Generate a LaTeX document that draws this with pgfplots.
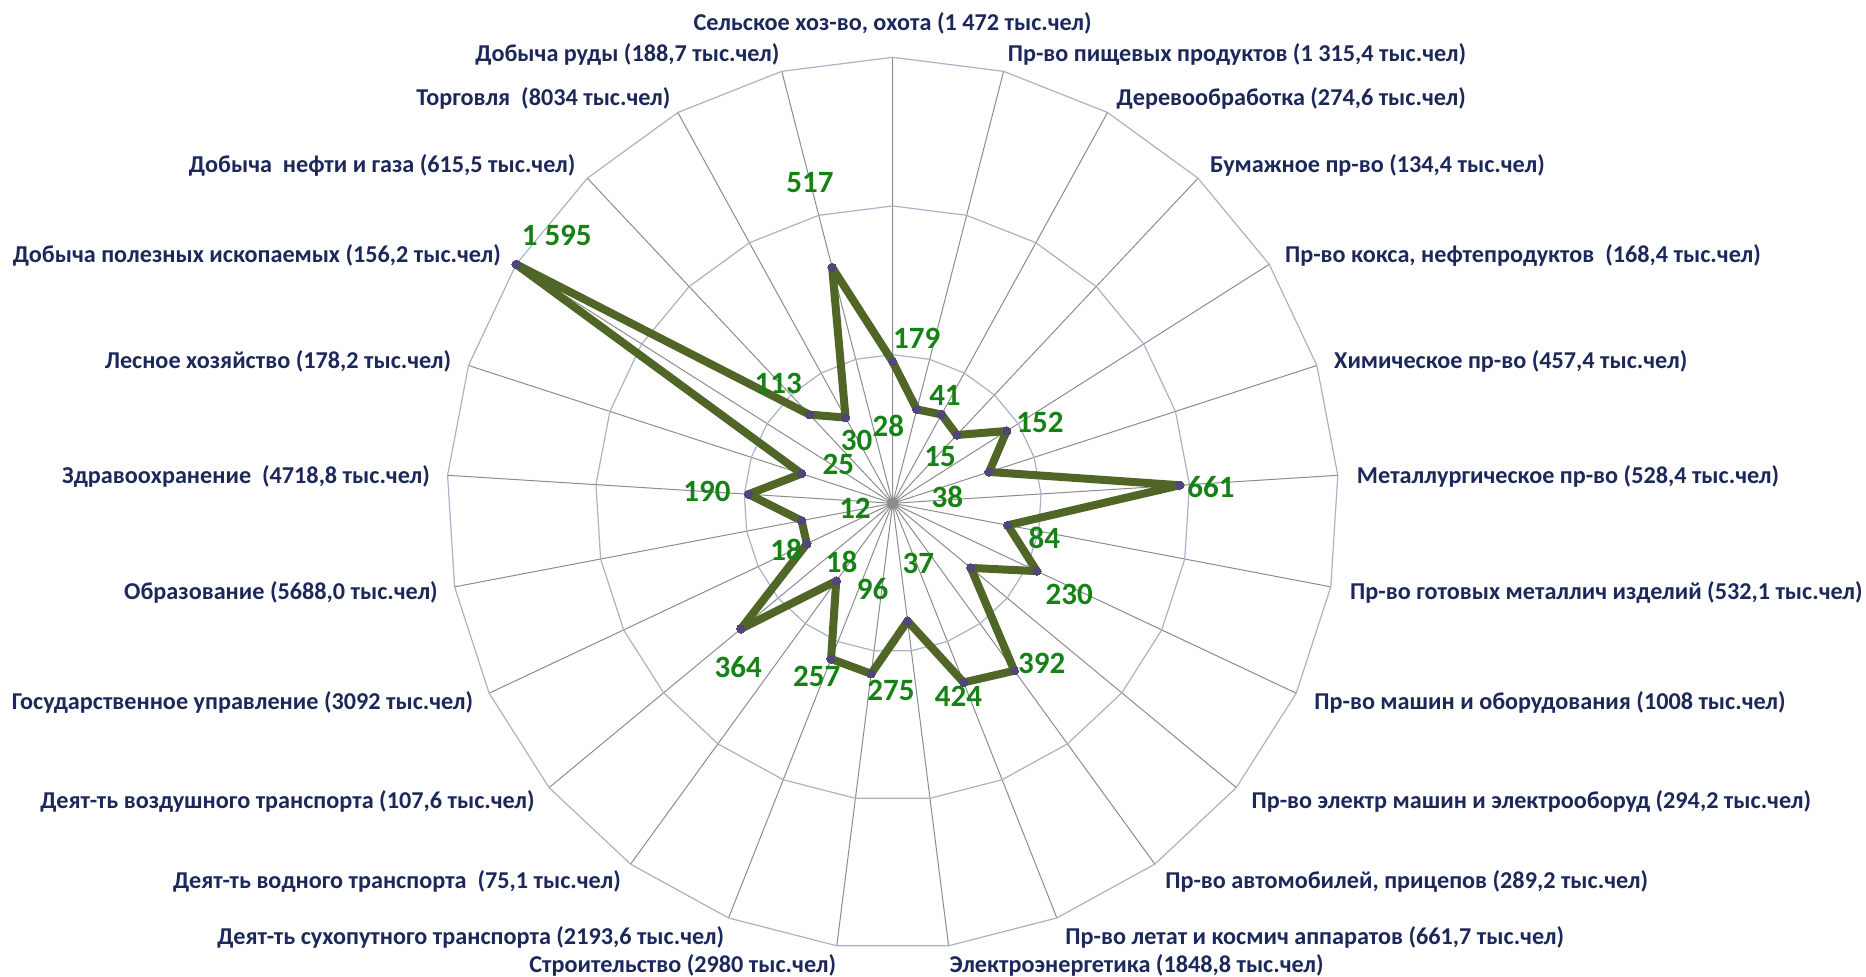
\documentclass[border=0pt]{standalone}
\usepackage{fontspec}
\setmainfont{Carlito}
\usepackage{pgfplots}
\pgfplotsset{compat=1.18}
\usepackage{pgfplotstable}
\usepgfplotslibrary{polar}

\definecolor{spoke}{RGB}{140,140,140}
\definecolor{ring}{RGB}{170,178,200}
\definecolor{serie}{RGB}{80,102,38}
\definecolor{markc}{RGB}{80,70,120}
\definecolor{valc}{RGB}{22,130,22}
\definecolor{catc}{RGB}{28,40,90}

% radius of each vertex (outer ring = 1500)
\pgfplotstableread{
a r
90 476
75.6 326
61.2 341
46.8 315
32.4 454
18 341
3.6 968
-10.8 394
-25.2 536
-39.6 341
-54 696
-68.4 648
-82.8 399
-97.2 578
-111.6 563
-126 323
-140.4 663
-154.8 319
-169.2 312
-183.6 486
-198 322
-212.4 1500
-226.8 409
-241.2 329
-255.6 819
-270 476
}\series

\pgfplotstableread[col sep=semicolon, row sep=\\]{
x;y;t\\
80.7;554.9;179\\
175.9;364.2;41\\
495.4;271.1;152\\
159.1;156.7;15\\
183.6;22.2;38\\
1070.5;55.8;661\\
509.9;-117.7;84\\
593.9;-305.0;230\\
86.1;-201.8;37\\
501.1;-538.1;392\\
221.3;-650.4;424\\
-67.3;-289.2;96\\
-5.7;-628;275\\
-255.6;-583.2;257\\
-171.5;-196.4;18\\
-519.3;-549.5;364\\
-358.8;-157.1;18\\
-126.8;-16.8;12\\
-624.5;39.7;190\\
-183.0;132.2;25\\
-1130.0;902.3;1 595\\
-121.1;212.9;30\\
-384.7;403.6;113\\
-14.8;260.0;28\\
-278.1;1078.2;517\\
}\vals

\pgfplotstableread[col sep=semicolon, row sep=\\]{
x;y;t\\
0;1615;Сельское хоз-во, охота (1 472 тыс.чел)\\
}\catstop

\pgfplotstableread[col sep=semicolon, row sep=\\]{
x;y;t\\
385.8;1510.7;Пр-во пищевых продуктов (1 315,4 тыс.чел)\\
752.0;1363;Деревообработка (274,6 тыс.чел)\\
1066.5;1136.5;Бумажное пр-во (134,4 тыс.чел)\\
1318.4;833.8;Пр-во кокса, нефтепродуктов~ (168,4 тыс.чел)\\
1483.5;477;Химическое пр-во (457,4 тыс.чел)\\
1560.2;90.8;Металлургическое пр-во (528,4 тыс.чел)\\
1537.3;-300.4;Пр-во готовых металлич изделий (532,1 тыс.чел)\\
1416.9;-670;Пр-во машин и оборудования (1008 тыс.чел)\\
1205.7;-1003.6;Пр-во электр машин и электрооборуд (294,2 тыс.чел)\\
915.5;-1272;Пр-во автомобилей, прицепов (289,2 тыс.чел)\\
579.8;-1460.3;Пр-во летат и космич аппаратов (661,7 тыс.чел)\\
190.4;-1555.5;Электроэнергетика (1848,8 тыс.чел)\\
}\catsright

\pgfplotstableread[col sep=semicolon, row sep=\\]{
x;y;t\\
-189.3;-1555.5;Строительство (2980 тыс.чел)\\
-565.7;-1460.3;Деят-ть сухопутного транспорта (2193,6 тыс.чел)\\
-913.4;-1272;Деят-ть водного транспорта~ (75,1 тыс.чел)\\
-1203.0;-1003.6;Деят-ть воздушного транспорта (107,6 тыс.чел)\\
-1409.5;-670;Государственное управление (3092 тыс.чел)\\
-1528.9;-300.4;Образование (5688,0 тыс.чел)\\
-1555.5;90.8;Здравоохранение~ (4718,8 тыс.чел)\\
-1483.5;477;Лесное хозяйство (178,2 тыс.чел)\\
-1316.0;833.8;Добыча полезных ископаемых (156,2 тыс.чел)\\
-1066.1;1136.5;Добыча~ нефти и газа (615,5 тыс.чел)\\
-746.3;1363;Торговля~ (8034 тыс.чел)\\
-379.7;1510.7;Добыча руды (188,7 тыс.чел)\\
}\catsleft

\pgfplotsset{
  txtlabels/.style={mark=none, draw=none,
    data cs=cart, point meta=explicit symbolic, nodes near coords,
    every node near coord/.append style={anchor=#1, inner sep=0pt, text=catc,
      font=\fontsize{12.1}{14}\selectfont\bfseries}},
}

\begin{document}
\begin{tikzpicture}
\begin{polaraxis}[
  at={(0,0)}, anchor=center,
  scale only axis, width=446pt, height=446pt,
  ymin=0, ymax=1500,
  xtick={3.6,18,...,350},
  xticklabels={}, ytick=\empty,
  xmajorgrids=true, ymajorgrids=false,
  major grid style={draw=spoke, line width=0.5pt},
  axis line style={draw=none},
  major tick length=0pt,
  clip=false,
]
\coordinate (O) at (axis cs:0,0);
\addplot[ring, line width=0.6pt, mark=none] table[x=a, y expr=500] {\series};
\addplot[ring, line width=0.6pt, mark=none] table[x=a, y expr=1000] {\series};
\addplot[ring, line width=0.6pt, mark=none] table[x=a, y expr=1500] {\series};
\addplot[serie, line width=4pt, line join=round, mark=*, mark size=2.1pt,
  mark options={fill=markc, draw=markc, line width=0pt}] table[x=a, y=r] {\series};
\addplot[mark=none, draw=none, data cs=cart,
  point meta=explicit symbolic, nodes near coords,
  every node near coord/.append style={anchor=center, inner sep=0pt, text=valc,
    font=\fontsize{15.5}{18}\selectfont\bfseries}]
  table[x=x, y=y, meta=t] {\vals};
\addplot[txtlabels=center] table[x=x, y=y, meta=t] {\catstop};
\addplot[txtlabels=west] table[x=x, y=y, meta=t] {\catsright};
\addplot[txtlabels=east] table[x=x, y=y, meta=t] {\catsleft};
\end{polaraxis}
\pgfresetboundingbox
\path[use as bounding box] ([shift={(-446.35pt,-236.85pt)}]O) rectangle ([shift={(486.65pt,251.65pt)}]O);
\end{tikzpicture}
\end{document}
